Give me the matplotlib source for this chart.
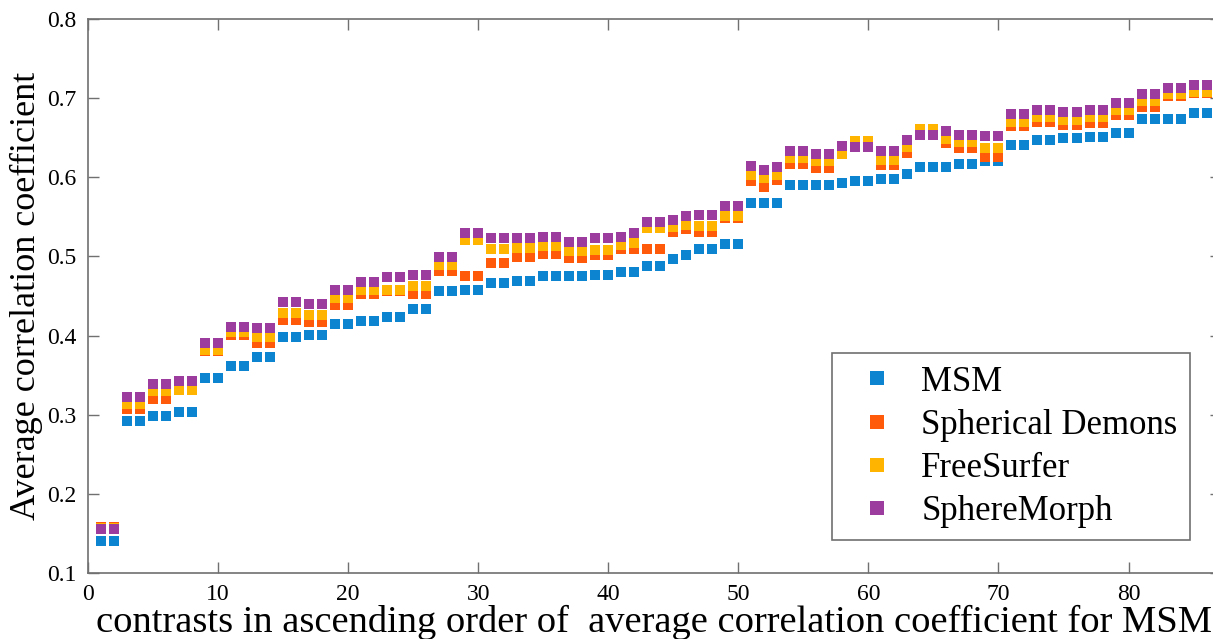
import numpy as np
import matplotlib
matplotlib.use("Agg")
import matplotlib.pyplot as plt

plt.rcParams['font.family'] = ['Liberation Serif', 'DejaVu Serif']

# contrasts 1..86, sorted by MSM
contrast = np.arange(1, 87)

msm = [0.141, 0.141, 0.292, 0.292, 0.298, 0.298, 0.304, 0.304, 0.347, 0.347,
       0.361, 0.361, 0.373, 0.373, 0.398, 0.398, 0.401, 0.401, 0.415, 0.415,
       0.419, 0.419, 0.423, 0.423, 0.433, 0.433, 0.456, 0.456, 0.458, 0.458,
       0.466, 0.466, 0.469, 0.469, 0.475, 0.475, 0.475, 0.475, 0.476, 0.476,
       0.480, 0.480, 0.488, 0.488, 0.497, 0.502, 0.509, 0.509, 0.516, 0.516,
       0.568, 0.568, 0.568, 0.590, 0.590, 0.590, 0.590, 0.593, 0.595, 0.595,
       0.598, 0.598, 0.604, 0.613, 0.613, 0.613, 0.617, 0.617, 0.620, 0.620,
       0.641, 0.641, 0.647, 0.647, 0.649, 0.649, 0.651, 0.651, 0.656, 0.656,
       0.674, 0.674, 0.674, 0.674, 0.681, 0.681]

spherical_demons = [0.158, 0.158, 0.307, 0.307, 0.320, 0.320, 0.333, 0.333, 0.380, 0.380,
                    0.401, 0.401, 0.391, 0.391, 0.420, 0.420, 0.417, 0.417, 0.438, 0.438,
                    0.452, 0.452, 0.456, 0.456, 0.453, 0.453, 0.481, 0.481, 0.475, 0.475,
                    0.492, 0.492, 0.499, 0.499, 0.503, 0.503, 0.498, 0.498, 0.502, 0.502,
                    0.509, 0.509, 0.509, 0.509, 0.531, 0.535, 0.531, 0.531, 0.549, 0.549,
                    0.595, 0.588, 0.596, 0.617, 0.617, 0.612, 0.612, 0.629, 0.644, 0.644,
                    0.615, 0.615, 0.631, 0.656, 0.656, 0.643, 0.637, 0.637, 0.625, 0.625,
                    0.665, 0.665, 0.670, 0.670, 0.666, 0.666, 0.669, 0.669, 0.679, 0.679,
                    0.689, 0.689, 0.703, 0.703, 0.706, 0.706]

freesurfer = [0.157, 0.157, 0.313, 0.313, 0.330, 0.330, 0.331, 0.331, 0.382, 0.382,
              0.405, 0.405, 0.398, 0.398, 0.428, 0.428, 0.426, 0.426, 0.447, 0.447,
              0.457, 0.457, 0.457, 0.457, 0.462, 0.462, 0.489, 0.489, 0.521, 0.521,
              0.509, 0.509, 0.510, 0.510, 0.513, 0.513, 0.507, 0.507, 0.508, 0.508,
              0.515, 0.517, 0.536, 0.536, 0.537, 0.540, 0.539, 0.539, 0.551, 0.551,
              0.603, 0.599, 0.603, 0.624, 0.624, 0.621, 0.621, 0.630, 0.646, 0.646,
              0.622, 0.622, 0.638, 0.661, 0.661, 0.648, 0.644, 0.644, 0.637, 0.637,
              0.670, 0.670, 0.676, 0.676, 0.672, 0.672, 0.676, 0.676, 0.685, 0.685,
              0.696, 0.696, 0.705, 0.705, 0.708, 0.708]

spheremorph = [0.155, 0.155, 0.322, 0.322, 0.339, 0.339, 0.343, 0.343, 0.391, 0.391,
               0.411, 0.411, 0.409, 0.409, 0.443, 0.443, 0.440, 0.440, 0.457, 0.457,
               0.468, 0.468, 0.474, 0.474, 0.477, 0.477, 0.499, 0.499, 0.530, 0.530,
               0.523, 0.523, 0.523, 0.523, 0.524, 0.524, 0.518, 0.518, 0.523, 0.523,
               0.524, 0.529, 0.543, 0.543, 0.546, 0.551, 0.552, 0.552, 0.564, 0.564,
               0.614, 0.609, 0.613, 0.633, 0.633, 0.630, 0.630, 0.640, 0.638, 0.638,
               0.633, 0.633, 0.647, 0.654, 0.654, 0.658, 0.654, 0.654, 0.652, 0.652,
               0.680, 0.680, 0.685, 0.685, 0.682, 0.682, 0.685, 0.685, 0.694, 0.694,
               0.705, 0.705, 0.713, 0.713, 0.716, 0.716]

names = ['MSM', 'Spherical Demons', 'FreeSurfer', 'SphereMorph']
colors = ['#0C84CF', '#FF5A0A', '#FFB400', '#9C3C9E']
series = [msm, spherical_demons, freesurfer, spheremorph]

fig = plt.figure(figsize=(12.13, 6.39), dpi=100)
ax = fig.add_axes([0.0725, 0.1033, 0.934, 0.867])

for vals, name, col in zip(series, names, colors):
    ax.plot(contrast, vals, linestyle='none', marker='s', markersize=7.5,
            markerfacecolor=col, markeredgewidth=0, label=name)

ax.set_xlim(0, 87.1)
ax.set_ylim(0.1, 0.8)
ax.set_xticks(np.arange(0, 81, 10))
ax.set_yticks(np.arange(0.1, 0.81, 0.1))
ax.set_yticklabels(['%.1f' % v for v in np.arange(0.1, 0.81, 0.1)])

spine_col = '#707070'
for s in ax.spines.values():
    s.set_color(spine_col)
    s.set_linewidth(1.2)
ax.tick_params(direction='in', length=8, width=1.0, color=spine_col,
               top=True, right=True, labelsize=17, pad=8)

ax.set_xlabel('contrasts in ascending order of  average correlation coefficient for MSM',
              fontsize=27.7, labelpad=0)
ax.set_ylabel('Average correlation coefficient', fontsize=26, labelpad=3)

leg = ax.legend(loc='lower right', bbox_to_anchor=(0.9726, 0.0596), borderaxespad=0,
                fontsize=25, fancybox=False, framealpha=1, edgecolor=spine_col,
                markerscale=1.4, handletextpad=0.34, labelspacing=0.29,
                borderpad=0.35, handlelength=1.9)
leg.get_frame().set_linewidth(1.2)

fig.savefig('out.png', dpi=100)
